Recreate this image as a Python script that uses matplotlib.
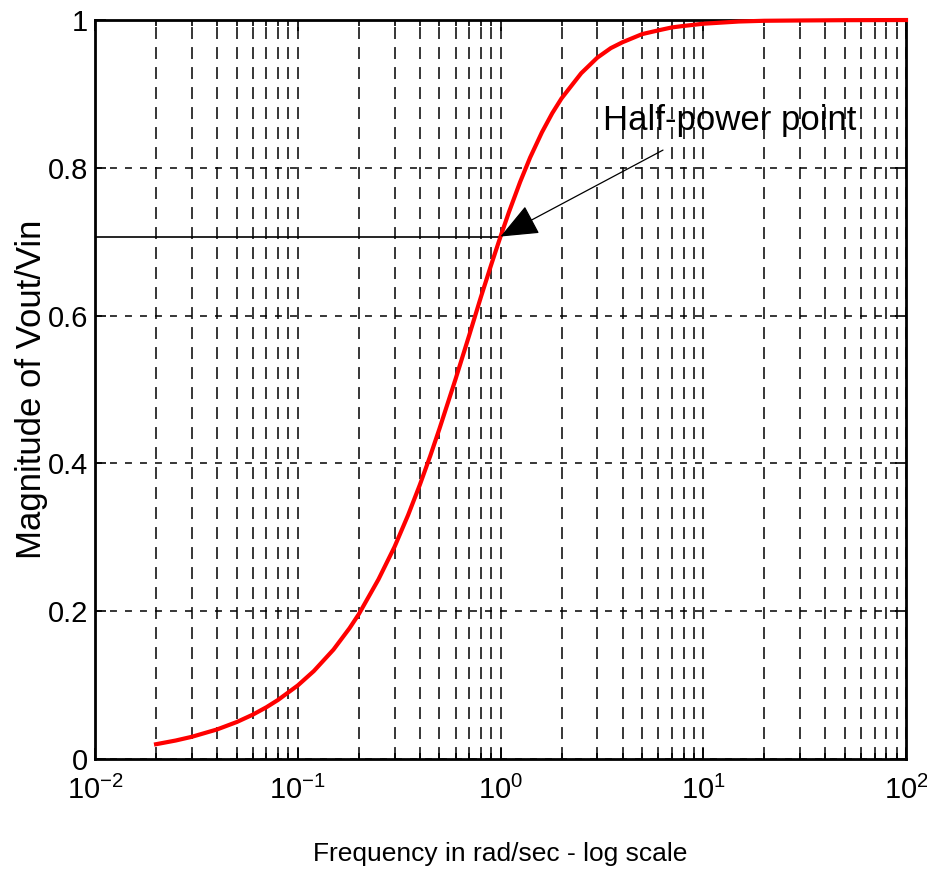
import numpy as np
import matplotlib
matplotlib.use("Agg")
import matplotlib.pyplot as plt

# values
freq = [0.02, 0.025, 0.03, 0.04, 0.05, 0.06, 0.07, 0.08, 0.1, 0.12, 0.15, 0.18, 0.2,
        0.25, 0.3, 0.35, 0.4, 0.45, 0.5, 0.6, 0.7, 0.8, 0.9, 1.0, 1.1, 1.25, 1.4,
        1.6, 1.8, 2.0, 2.5, 3.0, 3.5, 4.0, 5.0, 6.0, 7.0, 8.0, 10.0, 15.0, 20.0,
        30.0, 50.0, 100.0]
mag = [0.020, 0.025, 0.030, 0.040, 0.050, 0.060, 0.070, 0.080, 0.0995, 0.119, 0.148,
       0.177, 0.196, 0.243, 0.287, 0.330, 0.371, 0.410, 0.447, 0.514, 0.573, 0.625,
       0.669, 0.707, 0.740, 0.781, 0.814, 0.848, 0.874, 0.894, 0.928, 0.949, 0.962,
       0.970, 0.981, 0.986, 0.990, 0.992, 0.995, 0.998, 0.999, 0.9994, 0.9998, 1.0]
half_power = 0.707
yticks = [0, 0.2, 0.4, 0.6, 0.8, 1]
ytick_labels = ["0", "0.2", "0.4", "0.6", "0.8", "1"]

plt.rcParams["font.family"] = ["Liberation Sans", "DejaVu Sans"]
plt.rcParams["mathtext.fontset"] = "custom"
plt.rcParams["mathtext.rm"] = "Liberation Sans"
plt.rcParams["mathtext.it"] = "Liberation Sans"
plt.rcParams["mathtext.bf"] = "Liberation Sans"
plt.rcParams["axes.unicode_minus"] = False
plt.rcParams["lines.scale_dashes"] = False

fig = plt.figure(figsize=(9.28, 8.71), dpi=100)
ax = fig.add_axes([0.1024, 0.1286, 0.8739, 0.8484])

ax.set_xscale("log")
ax.set_xlim(1e-2, 1e2)
ax.set_ylim(0, 1)

# grid, MATLAB style
ax.grid(True, which="both", axis="x", color="black", linewidth=1.1,
        linestyle=(0, (8.6, 5.8)))
ax.grid(True, which="major", axis="y", color="black", linewidth=1.1,
        linestyle=(0, (5.0, 5.8)))
ax.set_axisbelow(True)

ax.plot(freq, mag, color="red", linewidth=3.0, zorder=5, clip_on=False)
ax.plot([1e-2, 1.0], [half_power, half_power], color="black", linewidth=1.2, zorder=4)

ax.annotate("", xy=(1.0, half_power), xytext=(6.33, 0.824),
            arrowprops=dict(arrowstyle="-|>,head_length=2.4,head_width=1.0",
                            mutation_scale=10, color="black", linewidth=0.9,
                            shrinkA=0, shrinkB=0),
            zorder=6)
ax.text(3.2, 0.851, "Half-power point", fontsize=25, va="baseline", ha="left",
        zorder=6)

ax.set_yticks(yticks)
ax.set_yticklabels(ytick_labels)
ax.tick_params(axis="both", which="both", direction="in", top=True, right=True,
               labelsize=21, width=1.2)
ax.tick_params(axis="both", which="major", length=8)
ax.tick_params(axis="x", which="minor", length=4)
ax.tick_params(axis="x", which="major", pad=12)
ax.tick_params(axis="y", which="major", pad=5)

for sp in ax.spines.values():
    sp.set_linewidth(2.0)
    sp.set_color("black")

ax.set_xlabel("Frequency in rad/sec - log scale", fontsize=19, labelpad=27)
ax.set_ylabel("Magnitude of Vout/Vin", fontsize=25, labelpad=0)

fig.savefig("out.png", dpi=100)
